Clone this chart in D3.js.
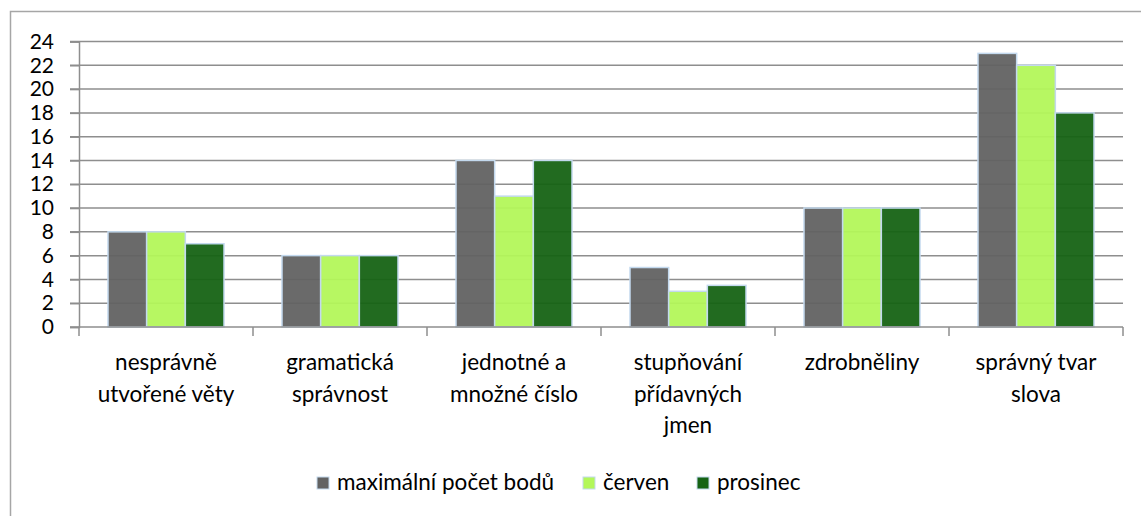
<!DOCTYPE html>
<html>
<head>
<meta charset="utf-8">
<script src="https://cdn.jsdelivr.net/npm/d3@7"></script>
<style>
  body { margin: 0; background: #fff; }
  text { font-family: Lato, "Open Sans", sans-serif; fill: #000; }
</style>
</head>
<body>
<svg id="chart" width="1141" height="516"></svg>
<script>
// data
const categories = [
  ["nesprávně", "utvořené věty"],
  ["gramatická", "správnost"],
  ["jednotné a", "množné číslo"],
  ["stupňování", "přídavných", "jmen"],
  ["zdrobněliny"],
  ["správný tvar", "slova"]
];
const series = ["maximální počet bodů", "červen", "prosinec"];
const maxBody = [8, 6, 14, 5, 10, 23];
const cerven = [8, 6, 11, 3, 10, 22];
const prosinec = [7, 6, 14, 3.5, 10, 18];
const yTicks = d3.range(0, 25, 2);

const colours = ["#626262", "#b3f75a", "#166314"];
const values = [maxBody, cerven, prosinec];
const fontSize = 22.5;

const svg = d3.select("#chart");

// outer frame (left + top edges visible)
svg.append("path")
  .attr("d", "M10.5,516 L10.5,11.5 L1141,11.5")
  .attr("fill", "none")
  .attr("stroke", "#a6a6a6")
  .attr("stroke-width", 1.5);

const x0 = d3.scaleBand()
  .domain(d3.range(categories.length))
  .range([79, 1123]);
const x1 = d3.scaleBand()
  .domain(d3.range(series.length))
  .range([0, x0.bandwidth()])
  .paddingOuter(0.75)
  .paddingInner(0);
const y = d3.scaleLinear().domain([0, 24]).range([327, 41.5]);

// gridlines
svg.append("g")
  .selectAll("line")
  .data(yTicks.slice(1))
  .join("line")
  .attr("x1", 70).attr("x2", 1123)
  .attr("y1", d => y(d)).attr("y2", d => y(d))
  .attr("stroke", "#8e8e8e")
  .attr("stroke-width", 1.5);

// bars
categories.forEach((c, i) => {
  const g = svg.append("g").attr("transform", `translate(${x0(i)},0)`);
  g.selectAll("rect")
    .data(series.map((s, j) => ({ j, v: values[j][i] })))
    .join("rect")
    .attr("x", d => x1(d.j))
    .attr("y", d => y(d.v))
    .attr("width", x1.bandwidth())
    .attr("height", d => y(0) - y(d.v))
    .attr("fill", d => colours[d.j])
    .attr("fill-opacity", 0.95)
    .attr("stroke", "#c3d9ee")
    .attr("stroke-width", 1.5);
});

// y axis
const yAxis = svg.append("g")
  .attr("transform", "translate(79,0)")
  .call(d3.axisLeft(y).tickValues(yTicks).tickSize(9).tickPadding(16));
yAxis.select(".domain").attr("stroke", "#8e8e8e").attr("stroke-width", 1.5);
yAxis.selectAll(".tick line").attr("stroke", "#8e8e8e").attr("stroke-width", 1.5);
yAxis.selectAll(".tick text")
  .attr("font-size", 21)
  .style("font-family", "Lato, 'Open Sans', sans-serif")
  .attr("fill", "#000");

// x axis line + category ticks
const xAxis = svg.append("g").attr("transform", `translate(0,${y(0)})`);
xAxis.append("line")
  .attr("x1", 70).attr("x2", 1123)
  .attr("stroke", "#8e8e8e").attr("stroke-width", 1.5);
xAxis.selectAll("line.tk")
  .data(d3.range(categories.length + 1))
  .join("line")
  .attr("class", "tk")
  .attr("x1", d => d === categories.length ? 1123 : x0(d))
  .attr("x2", d => d === categories.length ? 1123 : x0(d))
  .attr("y1", 0).attr("y2", 9)
  .attr("stroke", "#8e8e8e").attr("stroke-width", 1.5);

// category labels
const lbl = svg.append("g").selectAll("text")
  .data(categories)
  .join("text")
  .attr("text-anchor", "middle")
  .attr("font-size", fontSize)
  .attr("x", (d, i) => x0(i) + x0.bandwidth() / 2)
  .attr("y", 370);
lbl.selectAll("tspan")
  .data(d => d)
  .join("tspan")
  .attr("x", function () { return d3.select(this.parentNode).attr("x"); })
  .attr("dy", (d, k) => k === 0 ? 0 : 31.5)
  .text(d => d);

// legend
const legendX = [317, 583, 697];
const leg = svg.append("g").selectAll("g")
  .data(series)
  .join("g")
  .attr("transform", (d, i) => `translate(${legendX[i]},477)`);
leg.append("rect")
  .attr("width", 12).attr("height", 12)
  .attr("fill", (d, i) => colours[i])
  .attr("stroke", "#c3d9ee").attr("stroke-width", 1);
leg.append("text")
  .attr("x", 20).attr("y", 13)
  .attr("font-size", fontSize)
  .text(d => d);
</script>
</body>
</html>
